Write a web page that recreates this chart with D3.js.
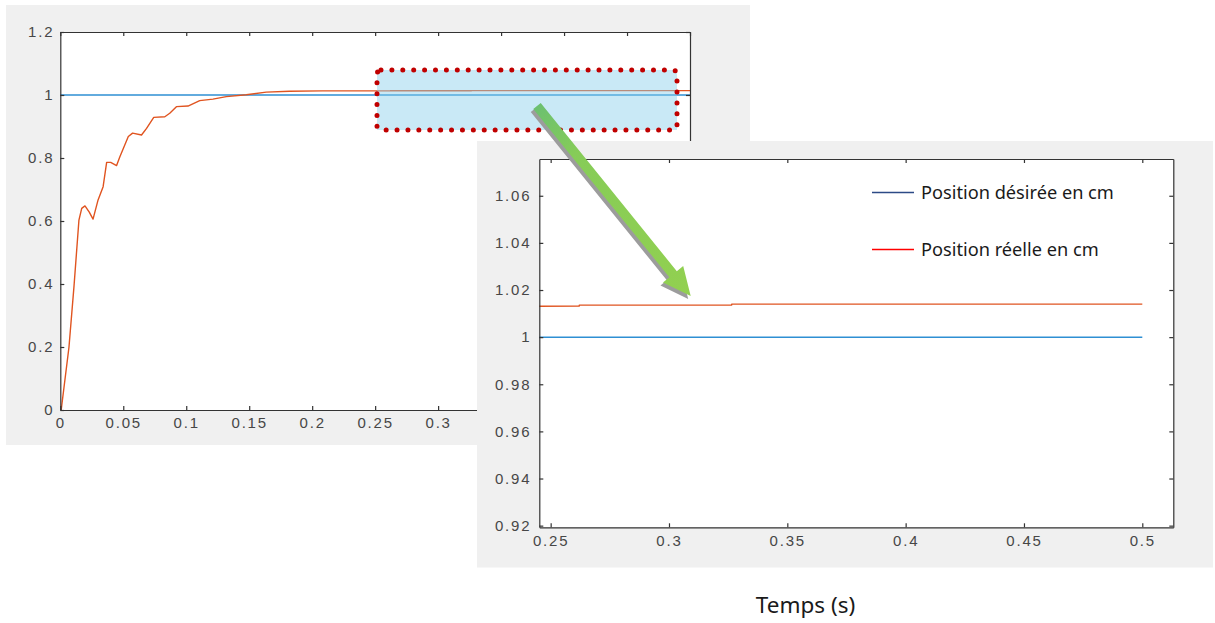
<!DOCTYPE html>
<html>
<head>
<meta charset="utf-8">
<script src="https://cdn.jsdelivr.net/npm/d3@7"></script>
<style>
  html, body { margin: 0; padding: 0; background: #ffffff; }
  svg { display: block; }
  .tick text {
    font-family: "Liberation Sans", Arial, Helvetica, sans-serif;
    font-size: 15px;
    fill: #474747;
    letter-spacing: 1.8px;
  }
  .tick line, .domain { stroke: #333333; stroke-width: 1.2; }
</style>
</head>
<body>
<svg id="chart" width="1215" height="623"></svg>
<script>
// Step response of the position loop (time in s, position in cm)
const timeResp = [0, 0.0007, 0.0069, 0.0109, 0.0148, 0.017, 0.0196, 0.023, 0.026, 0.030, 0.034,
  0.0368, 0.040, 0.0447, 0.0473, 0.054, 0.0574, 0.0645, 0.0685, 0.0742, 0.083, 0.0869, 0.0922,
  0.1014, 0.1107, 0.1212, 0.1318, 0.1477, 0.1635, 0.182, 0.208, 0.2621, 0.2621, 0.3265, 0.3265, 0.5];
const posResp = [0, 0, 0.2, 0.394, 0.603, 0.640, 0.648, 0.628, 0.606, 0.667, 0.709,
  0.786, 0.786, 0.776, 0.804, 0.868, 0.879, 0.873, 0.894, 0.929, 0.931, 0.942, 0.963,
  0.965, 0.982, 0.987, 0.995, 1.001, 1.009, 1.012, 1.013, 1.0132, 1.0136, 1.0136, 1.0140, 1.0140];

// Set point
const timeRef = [0, 0.5];
const posRef = [1, 1];

const seriesNames = ["Position désirée en cm", "Position réelle en cm"];
const xAxisTitle = "Temps (s)";

// Full view ticks (labels past 0.3 sit under the zoomed view)
const mainXTicks = [0, 0.05, 0.1, 0.15, 0.2, 0.25, 0.3, 0.35, 0.4, 0.45, 0.5];
const mainXLabels = ["0", "0.05", "0.1", "0.15", "0.2", "0.25", "0.3"];
const mainYTicks = [0, 0.2, 0.4, 0.6, 0.8, 1, 1.2];
const mainYLabels = ["0", "0.2", "0.4", "0.6", "0.8", "1", "1.2"];

// Zoomed view ticks
const zoomXTicks = [0.25, 0.3, 0.35, 0.4, 0.45, 0.5];
const zoomXLabels = ["0.25", "0.3", "0.35", "0.4", "0.45", "0.5"];
const zoomYTicks = [0.92, 0.94, 0.96, 0.98, 1, 1.02, 1.04, 1.06];
const zoomYLabels = ["0.92", "0.94", "0.96", "0.98", "1", "1.02", "1.04", "1.06"];

const refColor = "#2e8fd3";
const respColor = "#e05420";

const svg = d3.select("#chart");
const defs = svg.append("defs");

const refData = timeRef.map((t, i) => ({ t, v: posRef[i] }));
const respData = timeResp.map((t, i) => ({ t, v: posResp[i] }));

function drawPanel(cfg) {
  const g = svg.append("g");
  g.append("rect")
    .attr("x", cfg.bg[0]).attr("y", cfg.bg[1])
    .attr("width", cfg.bg[2] - cfg.bg[0]).attr("height", cfg.bg[3] - cfg.bg[1])
    .attr("fill", "#f0f0f0");

  const x = d3.scaleLinear().domain(cfg.xDomain).range([cfg.left, cfg.right]);
  const y = d3.scaleLinear().domain(cfg.yDomain).range([cfg.bottom, cfg.top]);

  g.append("rect")
    .attr("x", cfg.left).attr("y", cfg.top)
    .attr("width", cfg.right - cfg.left).attr("height", cfg.bottom - cfg.top)
    .attr("fill", "#ffffff");

  defs.append("clipPath").attr("id", cfg.id + "-clip")
    .append("rect")
    .attr("x", cfg.left).attr("y", cfg.top)
    .attr("width", cfg.right - cfg.left).attr("height", cfg.bottom - cfg.top);

  const line = d3.line().x(d => x(d.t)).y(d => y(d.v));
  const plot = g.append("g").attr("clip-path", `url(#${cfg.id}-clip)`);
  plot.append("path").datum(refData)
    .attr("d", line).attr("fill", "none")
    .attr("stroke", refColor).attr("stroke-width", 1.5);
  plot.append("path").datum(respData)
    .attr("d", line).attr("fill", "none")
    .attr("stroke", respColor).attr("stroke-width", 1.4)
    .attr("stroke-linejoin", "round");

  // Box with inward ticks on all four sides
  const fmtX = (d, i) => cfg.xLabels[i] || "";
  const fmtY = (d, i) => cfg.yLabels[i] || "";
  g.append("g").attr("transform", `translate(0,${cfg.bottom})`)
    .call(d3.axisBottom(x).tickValues(cfg.xTicks).tickFormat(fmtX)
      .tickSizeInner(-4).tickSizeOuter(0).tickPadding(cfg.xPad));
  g.append("g").attr("transform", `translate(0,${cfg.top})`)
    .call(d3.axisTop(x).tickValues(cfg.xTicks).tickFormat("")
      .tickSizeInner(-4).tickSizeOuter(0));
  g.append("g").attr("transform", `translate(${cfg.left},0)`)
    .call(d3.axisLeft(y).tickValues(cfg.yTicks).tickFormat(fmtY)
      .tickSizeInner(-4).tickSizeOuter(0).tickPadding(cfg.yPad));
  g.append("g").attr("transform", `translate(${cfg.right},0)`)
    .call(d3.axisRight(y).tickValues(cfg.yTicks).tickFormat("")
      .tickSizeInner(-4).tickSizeOuter(0));
  g.selectAll(".tick text").attr("fill", "#474747");
  return { g, x, y };
}

// Full response
const main = drawPanel({
  id: "main",
  bg: [6, 5, 750, 445],
  left: 60.3, right: 690, top: 32, bottom: 410,
  xDomain: [0, 0.5], yDomain: [0, 1.2],
  xTicks: mainXTicks, xLabels: mainXLabels,
  yTicks: mainYTicks, yLabels: mainYLabels,
  xPad: 7, yPad: 6
});

// Highlighted region of the steady state
svg.append("rect")
  .attr("x", 377).attr("y", 70).attr("width", 300).attr("height", 60)
  .attr("fill", "#87ceeb").attr("fill-opacity", 0.45);
svg.append("rect")
  .attr("x", 377).attr("y", 70).attr("width", 300).attr("height", 60)
  .attr("rx", 4)
  .attr("fill", "none").attr("stroke", "#c00000")
  .attr("stroke-width", 5).attr("stroke-linecap", "round")
  .attr("stroke-dasharray", "0 10.9");

// Zoom on the steady state
const zoom = drawPanel({
  id: "zoom",
  bg: [477, 141, 1213, 567.5],
  left: 539.3, right: 1173.3, top: 159, bottom: 527.3,
  xDomain: [0.2452, 0.5131], yDomain: [0.9193, 1.0756],
  xTicks: zoomXTicks, xLabels: zoomXLabels,
  yTicks: zoomYTicks, yLabels: zoomYLabels,
  xPad: 8, yPad: 8
});

// Legend
const legendColors = ["#2c4a86", "#ff0000"];
const legend = svg.append("g");
seriesNames.forEach((name, i) => {
  const yy = 192.5 + i * 57;
  legend.append("line")
    .attr("x1", 872).attr("x2", 914).attr("y1", yy).attr("y2", yy)
    .attr("stroke", legendColors[i]).attr("stroke-width", 1.5);
  legend.append("text")
    .attr("x", 921).attr("y", yy + 6)
    .attr("font-family", "'Noto Sans', 'Open Sans', sans-serif")
    .attr("font-size", "18.2px").attr("fill", "#1a1a1a")
    .text(name);
});

// Axis title
svg.append("text")
  .attr("x", 805.5).attr("y", 613)
  .attr("text-anchor", "middle")
  .attr("font-family", "'Noto Sans', 'Open Sans', sans-serif")
  .attr("font-size", "22.5px").attr("fill", "#1a1a1a")
  .text(xAxisTitle);

// Green pointer from the highlighted region to the zoomed view
const start = [537, 106], tip = [690.7, 296];
const dx = tip[0] - start[0], dy = tip[1] - start[1];
const len = Math.hypot(dx, dy);
const u = [dx / len, dy / len], n = [u[1], -u[0]];
const headLen = 28, headHalf = 13, shaftHalf = 4.8;
const base = [tip[0] - headLen * u[0], tip[1] - headLen * u[1]];
const pts = [
  [start[0] + shaftHalf * n[0], start[1] + shaftHalf * n[1]],
  [base[0] + shaftHalf * n[0], base[1] + shaftHalf * n[1]],
  [base[0] + headHalf * n[0], base[1] + headHalf * n[1]],
  tip,
  [base[0] - headHalf * n[0], base[1] - headHalf * n[1]],
  [base[0] - shaftHalf * n[0], base[1] - shaftHalf * n[1]],
  [start[0] - shaftHalf * n[0], start[1] - shaftHalf * n[1]]
];
const grad = defs.append("linearGradient").attr("id", "arrowGrad")
  .attr("gradientUnits", "userSpaceOnUse")
  .attr("x1", start[0]).attr("y1", start[1]).attr("x2", tip[0]).attr("y2", tip[1]);
grad.append("stop").attr("offset", "0%").attr("stop-color", "#6cc070");
grad.append("stop").attr("offset", "25%").attr("stop-color", "#86cc58");
grad.append("stop").attr("offset", "100%").attr("stop-color", "#92d050");

svg.append("polygon")
  .attr("points", pts.map(p => [p[0] - 2.5, p[1] + 3].join(",")).join(" "))
  .attr("fill", "#9c9c9c");
svg.append("polygon")
  .attr("points", pts.map(p => p.join(",")).join(" "))
  .attr("fill", "url(#arrowGrad)");
</script>
</body>
</html>
